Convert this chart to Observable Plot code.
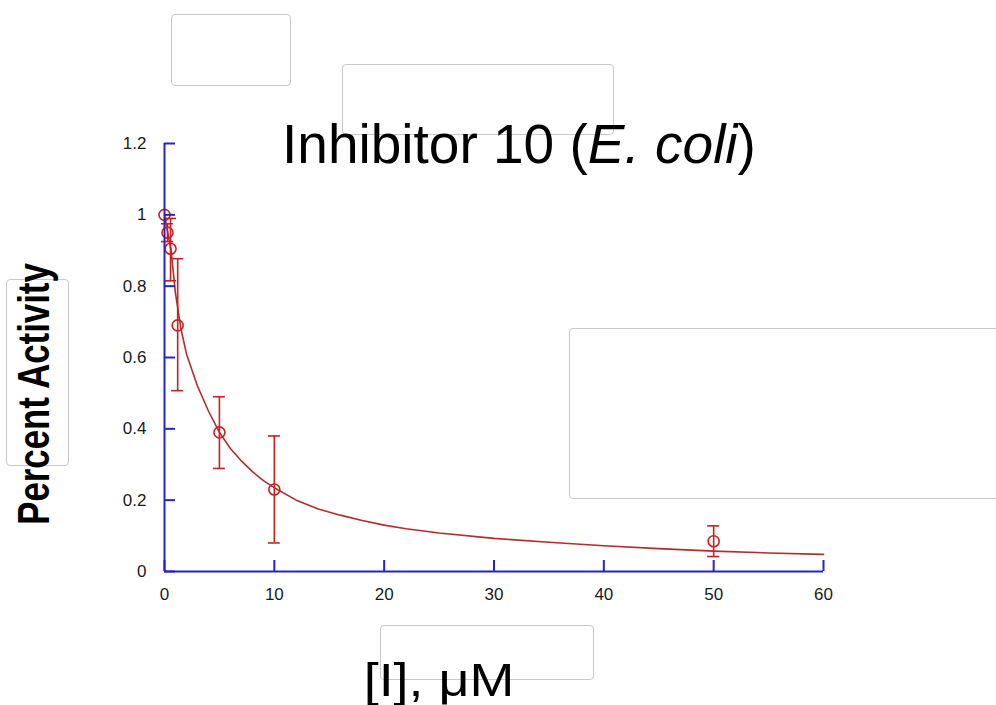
<!DOCTYPE html>
<html>
<head>
<meta charset="utf-8">
<script src="https://cdn.jsdelivr.net/npm/d3@7"></script>
<script src="https://cdn.jsdelivr.net/npm/@observablehq/plot@0.6"></script>
<style>
  html, body { margin: 0; padding: 0; background: #fff; }
  #wrap { position: relative; width: 996px; height: 705px; overflow: hidden; font-family: "Liberation Sans", Arial, sans-serif; }
  .box { position: absolute; border: 1.5px solid #c8c8c8; border-radius: 4px; box-sizing: border-box; background: transparent; }
  #chart { position: absolute; left: 0; top: 0; }
  .lbl { position: absolute; white-space: nowrap; color: #000; line-height: 1; }
</style>
</head>
<body>
<div id="wrap">
  <div class="box" style="left:171px;top:14px;width:120px;height:72px"></div>
  <div class="box" style="left:342px;top:64px;width:272px;height:71px"></div>
  <div class="box" style="left:569px;top:328px;width:440px;height:171px"></div>
  <div class="box" style="left:380px;top:625px;width:214px;height:55px"></div>
  <div class="box" style="left:6px;top:279px;width:63px;height:187px"></div>
  <div id="chart"></div>
  <div class="lbl" id="title" style="font-size:55px;left:519px;top:117px;transform:translateX(-50%)">Inhibitor 10 (<i>E. coli</i>)</div>
  <div class="lbl" id="ylab" style="font-size:44px;font-weight:bold;left:34px;top:394px;transform:translate(-50%,-50%) rotate(-90deg) scaleX(0.79)">Percent Activity</div>
  <div class="lbl" id="xlab" style="font-size:46px;left:439px;top:657px;transform:translateX(-50%) scaleX(1.17)">[I], μM</div>
</div>
<script>
// Measured points (concentration in µM, fraction activity)
const conc = [0, 0.27, 0.55, 1.2, 5, 10, 50];
const activity = [1.0, 0.95, 0.905, 0.69, 0.39, 0.23, 0.085];
const errLow = [null, 0.925, 0.815, 0.507, 0.289, 0.08, 0.042];
const errHigh = [null, 0.975, 0.99, 0.877, 0.49, 0.38, 0.128];

// Fitted curve
const fitX = [0, 0.3, 0.6, 1, 1.5, 2, 3, 4, 5, 6, 7, 8, 9, 10, 12, 14, 16, 18, 20, 22, 25, 30, 35, 40, 45, 50, 55, 60];
const fitY = [1.0, 0.95, 0.9, 0.78, 0.68, 0.61, 0.52, 0.45, 0.39, 0.345, 0.31, 0.28, 0.255, 0.235, 0.2, 0.175, 0.158, 0.143, 0.13, 0.12, 0.108, 0.093, 0.082, 0.072, 0.064, 0.057, 0.052, 0.048];

const xTicks = [0, 10, 20, 30, 40, 50, 60];
const yTicks = [0, 0.2, 0.4, 0.6, 0.8, 1, 1.2];
const yTickLabels = ["0", "0.2", "0.4", "0.6", "0.8", "1", "1.2"];

const points = conc.map((x, i) => ({x, y: activity[i], lo: errLow[i], hi: errHigh[i]}));
const errs = points.filter(d => d.lo != null);
const fit = fitX.map((x, i) => ({x, y: fitY[i]}));

const axisBlue = "#2424c8";
const red = "#c82020";

const chart = Plot.plot({
  width: 996,
  height: 705,
  marginLeft: 164,
  marginRight: 173,
  marginTop: 143,
  marginBottom: 134,
  style: {background: "transparent", overflow: "visible", fontFamily: "'Liberation Sans', Arial, sans-serif", fontSize: "17px"},
  x: {domain: [0, 60]},
  y: {domain: [0, 1.2]},
  marks: [
    // fitted curve
    Plot.line(fit, {x: "x", y: "y", stroke: "#b52c2c", strokeWidth: 1.6}),
    // error bars
    Plot.ruleX(errs, {x: "x", y1: "lo", y2: "hi", stroke: red, strokeWidth: 1.6}),
    Plot.ruleY(errs, {y: "lo", x1: "x", x2: "x", insetLeft: -6, insetRight: -6, stroke: red, strokeWidth: 1.6}),
    Plot.ruleY(errs, {y: "hi", x1: "x", x2: "x", insetLeft: -6, insetRight: -6, stroke: red, strokeWidth: 1.6}),
    // points
    Plot.dot(points, {x: "x", y: "y", r: 5.5, stroke: red, strokeWidth: 1.6, fill: "none"}),
    // axis lines
    Plot.ruleX([0], {stroke: axisBlue, strokeWidth: 2}),
    Plot.ruleY([0], {stroke: axisBlue, strokeWidth: 2}),
    // inward ticks
    Plot.ruleY(yTicks, {y: d => d, x1: () => 0, x2: () => 0, insetRight: -11, stroke: axisBlue, strokeWidth: 2}),
    Plot.ruleX(xTicks, {x: d => d, y1: () => 0, y2: () => 0, insetTop: -11, stroke: axisBlue, strokeWidth: 2}),
    // tick labels
    Plot.axisY(yTicks, {tickSize: 0, tickPadding: 18, tickFormat: (d, i) => yTickLabels[i], label: null, fill: "#1a1a1a"}),
    Plot.axisX(xTicks, {tickSize: 0, tickPadding: 16, tickFormat: d => String(d), label: null, fill: "#1a1a1a"})
  ]
});
document.getElementById("chart").appendChild(chart);
</script>
</body>
</html>
